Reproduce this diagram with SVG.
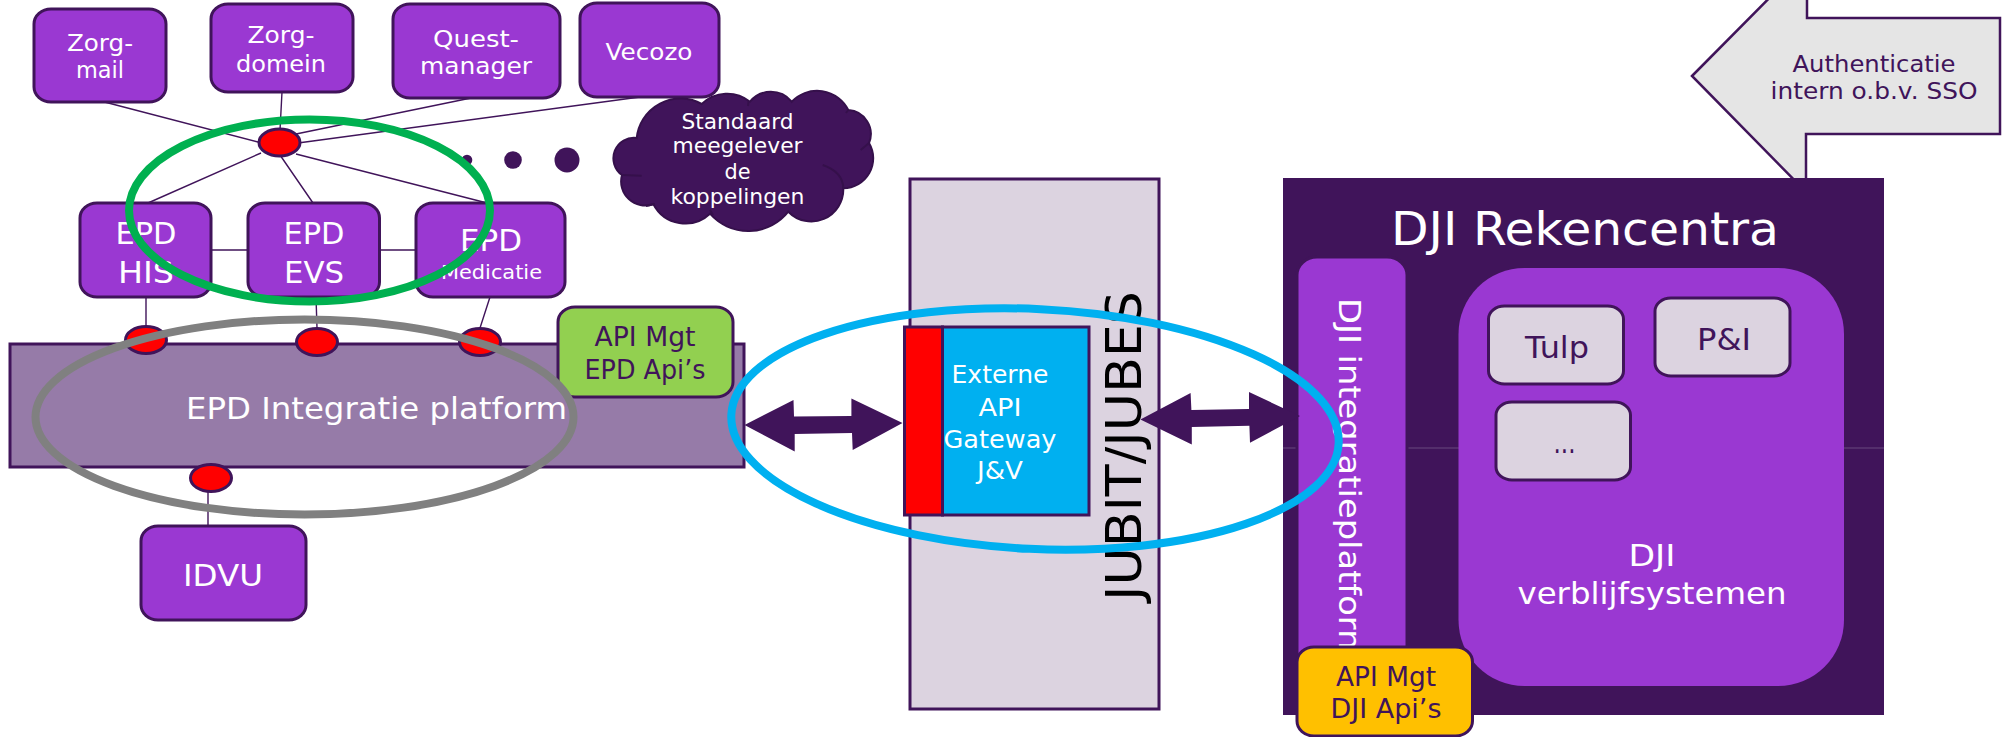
<svg xmlns="http://www.w3.org/2000/svg" width="2005" height="737" viewBox="0 0 2005 737">
<style>
text{font-family:"DejaVu Sans","Verdana",sans-serif;text-anchor:middle}
.w{fill:#fff}.d{fill:#40145a}
.box{fill:#9a38d2;stroke:#40145a;stroke-width:3}
.hub{fill:#f00;stroke:#40145a;stroke-width:3}
.lite{fill:#dcd3e0;stroke:#40145a;stroke-width:3}
.dark{fill:#40145a}
.con{stroke:#40145a;stroke-width:1.4;fill:none}
.ring{fill:none;stroke-width:8}
</style>
<rect width="2005" height="737" fill="#fff"/>
<g id="connectors">
<path class="con" d="M104.500 102L262 143M282 92L280 130M471 98L296 134M640 97L298 143M261 153L148 203M280 155L313 203M296 154L487 203M211 250H248M379 250H416M146 297V328M316 297L317 328M490 297L480 328M208 490V526"/>
</g>
<g id="zorgmail"><rect class="box" x="34" y="9" width="132" height="93" rx="17" ry="15"/><text class="w" font-size="23" x="100" y="51" textLength="66" lengthAdjust="spacingAndGlyphs">Zorg-</text><text class="w" font-size="23" x="100" y="78" textLength="48" lengthAdjust="spacingAndGlyphs">mail</text></g>
<g id="zorgdomein"><rect class="box" x="211" y="4" width="142" height="88" rx="17" ry="15"/><text class="w" font-size="23" x="281" y="43" textLength="67" lengthAdjust="spacingAndGlyphs">Zorg-</text><text class="w" font-size="23" x="281" y="72" textLength="90" lengthAdjust="spacingAndGlyphs">domein</text></g>
<g id="questmanager"><rect class="box" x="393" y="4" width="167" height="94" rx="17" ry="15"/><text class="w" font-size="23" x="476" y="47" textLength="86" lengthAdjust="spacingAndGlyphs">Quest-</text><text class="w" font-size="23" x="476" y="74" textLength="112" lengthAdjust="spacingAndGlyphs">manager</text></g>
<g id="vecozo"><rect class="box" x="580" y="3" width="139" height="94" rx="17" ry="15"/><text class="w" font-size="23" x="649" y="60" textLength="87" lengthAdjust="spacingAndGlyphs">Vecozo</text></g>
<g id="hub-top"><ellipse class="hub" cx="279.500" cy="142.500" rx="20.500" ry="13.500"/></g>
<g id="dots"><circle class="dark" cx="467" cy="160" r="5.300"/><circle class="dark" cx="513" cy="160" r="8.800"/><circle class="dark" cx="567" cy="160" r="12.500"/></g>
<g id="cloud">
<path fill="#40145a" stroke="#35104b" stroke-width="2" d="M636.700 138A44 44 0 0 1 701.700 104A36.500 36.500 0 0 1 750 101.700A27 27 0 0 1 791.700 101.700A35 35 0 0 1 848.300 110A24 24 0 0 1 869 143A30 30 0 0 1 843.300 188.300A32 32 0 0 1 788.300 211.700A51 51 0 0 1 710 213.700A36 36 0 0 1 653.300 204A24 24 0 0 1 622 175A20.500 20.500 0 0 1 636.700 138Z"/>
<path fill="none" stroke="#35104b" stroke-width="2" d="M869 143L860.700 150M822.700 165Q843 172 843.300 188.300M622 175L641.700 175.700M655 204L646 206M710 210L713 215M748.700 101L748 106M848.300 110L846 113"/>
<text class="w" font-size="21.500" x="737.500" y="129" textLength="112" lengthAdjust="spacingAndGlyphs">Standaard</text>
<text class="w" font-size="21.500" x="737.500" y="153" textLength="130" lengthAdjust="spacingAndGlyphs">meegelever</text>
<text class="w" font-size="21.500" x="737.500" y="179" textLength="26" lengthAdjust="spacingAndGlyphs">de</text>
<text class="w" font-size="21.500" x="737.500" y="204" textLength="134" lengthAdjust="spacingAndGlyphs">koppelingen</text>
</g>
<g id="epd-his"><rect class="box" x="80" y="203" width="131" height="94" rx="17" ry="15"/><text class="w" font-size="31" x="146" y="244" textLength="61" lengthAdjust="spacingAndGlyphs">EPD</text><text class="w" font-size="31" x="146" y="283" textLength="56" lengthAdjust="spacingAndGlyphs">HIS</text></g>
<g id="epd-evs"><rect class="box" x="248" y="203" width="131.500" height="94" rx="17" ry="15"/><text class="w" font-size="31" x="314" y="244" textLength="61" lengthAdjust="spacingAndGlyphs">EPD</text><text class="w" font-size="31" x="314" y="283" textLength="60" lengthAdjust="spacingAndGlyphs">EVS</text></g>
<g id="epd-medicatie"><rect class="box" x="416" y="203" width="149" height="94" rx="17" ry="15"/><text class="w" font-size="31" x="491" y="251" textLength="62" lengthAdjust="spacingAndGlyphs">EPD</text><text class="w" font-size="20" x="491.500" y="279" textLength="101" lengthAdjust="spacingAndGlyphs">Medicatie</text></g>
<g id="epd-platform"><rect x="10" y="344" width="734" height="123" fill="#967ba8" stroke="#40145a" stroke-width="3"/><text class="w" font-size="31" x="376.500" y="419" textLength="381" lengthAdjust="spacingAndGlyphs">EPD Integratie platform</text></g>
<g id="hubs-platform"><ellipse class="hub" cx="146" cy="340" rx="20.500" ry="13.500"/><ellipse class="hub" cx="317" cy="342" rx="20.500" ry="13.500"/><ellipse class="hub" cx="480" cy="342" rx="20.500" ry="13.500"/><ellipse class="hub" cx="211" cy="478" rx="20.500" ry="13.500"/></g>
<g id="api-mgt-epd"><rect x="558" y="307" width="175" height="90" rx="17" ry="15" fill="#92d050" stroke="#40145a" stroke-width="3"/><text class="d" font-size="26" x="645" y="346" textLength="101" lengthAdjust="spacingAndGlyphs">API Mgt</text><text class="d" font-size="26" x="645" y="379" textLength="121" lengthAdjust="spacingAndGlyphs">EPD Api’s</text></g>
<g id="idvu"><rect class="box" x="141" y="526" width="165" height="94" rx="17" ry="15"/><text class="w" font-size="31" x="223" y="586" textLength="80" lengthAdjust="spacingAndGlyphs">IDVU</text></g>
<g id="jubit"><rect class="lite" x="910" y="179" width="249" height="530"/><text fill="#000" font-size="50" transform="translate(1141 446) rotate(-90)" textLength="310" lengthAdjust="spacingAndGlyphs">JUBIT/JUBES</text></g>
<g id="gateway"><rect x="904.500" y="327" width="38" height="188" fill="#f00" stroke="#40145a" stroke-width="3"/><rect x="942.500" y="327" width="146.500" height="188" fill="#00b0f0" stroke="#40145a" stroke-width="3"/>
<text class="w" font-size="24" x="1000" y="383" textLength="97" lengthAdjust="spacingAndGlyphs">Externe</text><text class="w" font-size="24" x="1000" y="416" textLength="43" lengthAdjust="spacingAndGlyphs">API</text><text class="w" font-size="24" x="1000" y="448" textLength="113" lengthAdjust="spacingAndGlyphs">Gateway</text><text class="w" font-size="24" x="1000" y="479" textLength="46" lengthAdjust="spacingAndGlyphs">J&amp;V</text></g>
<g id="auth"><path d="M1692 76L1807 -40V18H2000V134H1806V192Z" fill="#e5e5e5" stroke="#40145a" stroke-width="2.500"/><text class="d" font-size="23" x="1874" y="72" textLength="163" lengthAdjust="spacingAndGlyphs">Authenticatie</text><text class="d" font-size="23" x="1874" y="99" textLength="207" lengthAdjust="spacingAndGlyphs">intern o.b.v. SSO</text></g>
<g id="dji"><rect class="dark" x="1283" y="178" width="601" height="537"/><path d="M1283 448H1884" stroke="#5b3773" stroke-width="1.500"/><text class="w" font-size="47" x="1585" y="245" textLength="388" lengthAdjust="spacingAndGlyphs">DJI Rekencentra</text></g>
<g id="dji-integratie"><rect class="box" x="1297" y="257" width="110" height="423" rx="20" ry="18"/><text class="w" font-size="30" style="text-anchor:start" transform="translate(1339 298) rotate(90)" textLength="364" lengthAdjust="spacingAndGlyphs">DJI integratieplatform</text></g>
<g id="dji-verblijf"><rect x="1458.500" y="268" width="385.500" height="418" rx="66" ry="66" fill="#9a38d2"/>
<text class="w" font-size="30" x="1652" y="566" textLength="47" lengthAdjust="spacingAndGlyphs">DJI</text><text class="w" font-size="30" x="1652" y="604" textLength="269" lengthAdjust="spacingAndGlyphs">verblijfsystemen</text></g>
<g id="tulp"><rect class="lite" x="1488.500" y="306" width="135" height="78" rx="16" ry="13"/><text class="d" font-size="30" x="1557" y="358" textLength="64" lengthAdjust="spacingAndGlyphs">Tulp</text></g>
<g id="pi"><rect class="lite" x="1655" y="298" width="135" height="78" rx="16" ry="13"/><text class="d" font-size="30" x="1724" y="350" textLength="54" lengthAdjust="spacingAndGlyphs">P&amp;I</text></g>
<g id="more"><rect class="lite" x="1496" y="402" width="134.500" height="78" rx="16" ry="13"/><text class="d" font-size="30" x="1564.500" y="453" textLength="22" lengthAdjust="spacingAndGlyphs">...</text></g>
<g id="api-mgt-dji"><rect x="1297" y="647" width="175.500" height="89" rx="17" ry="15" fill="#ffc000" stroke="#40145a" stroke-width="3"/><text class="d" font-size="26" x="1386" y="686" textLength="100" lengthAdjust="spacingAndGlyphs">API Mgt</text><text class="d" font-size="26" x="1386" y="718" textLength="111" lengthAdjust="spacingAndGlyphs">DJI Api’s</text></g>
<g id="arrows">
<path class="dark" d="M744.500 425L793.500 400L794 416.500L851.400 416V398.500L902.500 423L852.700 450L852 433L794.700 434V451.500Z"/>
<path class="dark" d="M1140.400 419.500L1190.600 393L1191.400 410L1249 409V392L1300 416L1250 442.700L1249.400 425.700L1191.800 427V444.500Z"/>
</g>
<g id="rings">
<ellipse class="ring" cx="309.500" cy="210.500" rx="180.500" ry="91" stroke="#00b050"/>
<ellipse class="ring" cx="304.500" cy="417" rx="269" ry="97.500" stroke="#808080"/>
<ellipse class="ring" cx="1035" cy="429" rx="304" ry="120" transform="rotate(2.700 1035 429)" stroke="#00b0f0"/>
</g>
</svg>
